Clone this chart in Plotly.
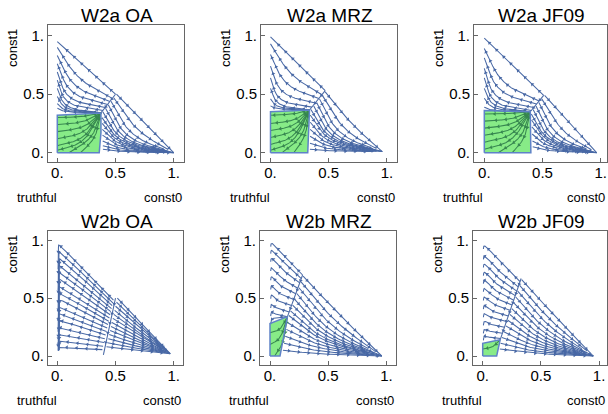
import numpy as np
import plotly.graph_objects as go

FIG_W, FIG_H = 608, 414

# ---------------- data ----------------
titles = ["W2a OA", "W2a MRZ", "W2a JF09", "W2b OA", "W2b MRZ", "W2b JF09"]
tick_vals = [0, 0.5, 1]
tick_text = ["0.", "0.5", "1."]
x_label_left, x_label_right, y_label = "truthful", "const0", "const1"

# separatrix: top end (on the const0/const1 edge) and lower junction node
sep_top_x = [0.50, 0.47, 0.51, 0.50, 0.28, 0.33]
sep_top_y = [0.50, 0.53, 0.49, 0.50, 0.70, 0.67]
node_x = [0.375, 0.335, 0.395, 0.40, 0.15, 0.15]
node_y = [0.34, 0.365, 0.35, 0.05, 0.34, 0.14]
foot_x = [0.385, 0.33, 0.41, 0.40, 0.095, 0.13]
# point where the right-hand streamlines converge (near const0 corner)
sink_x = [1.00, 0.96, 0.965, 0.97, 0.96, 0.95]
sink_y = [0.00, 0.01, 0.00, 0.02, 0.00, 0.00]

# streamline seeds: heights where the left-hand lines meet the truthful/const1 edge
upper_start_y = [
    [0.95, 0.90, 0.83, 0.76, 0.69, 0.62, 0.55, 0.48, 0.42, 0.38],
    [0.99, 0.93, 0.84, 0.74, 0.64, 0.55, 0.46, 0.40],
    [0.98, 0.89, 0.81, 0.72, 0.64, 0.55, 0.465, 0.39],
    [0.97, 0.91, 0.85, 0.79, 0.73, 0.67, 0.61, 0.55, 0.49, 0.43, 0.37, 0.31, 0.25, 0.19, 0.13, 0.08],
    [0.99, 0.93, 0.86, 0.78, 0.70, 0.62, 0.54, 0.46, 0.39, 0.32],
    [0.97, 0.88, 0.81, 0.74, 0.67, 0.60, 0.525, 0.45, 0.38, 0.31, 0.24, 0.18],
]
# heights where the right-hand lines leave the separatrix
right_start_y = [
    [0.50, 0.47, 0.44, 0.41, 0.38, 0.35, 0.30, 0.25, 0.20, 0.15, 0.10, 0.06, 0.03],
    [0.52, 0.49, 0.46, 0.43, 0.40, 0.37, 0.32, 0.26, 0.20, 0.14, 0.08, 0.03],
    [0.49, 0.46, 0.43, 0.40, 0.37, 0.33, 0.28, 0.22, 0.16, 0.10, 0.05],
    [0.50, 0.465, 0.43, 0.395, 0.36, 0.325, 0.29, 0.255, 0.22, 0.185, 0.15, 0.115, 0.08],
    [0.69, 0.64, 0.59, 0.54, 0.49, 0.44, 0.39, 0.35, 0.29, 0.23, 0.17, 0.11, 0.05],
    [0.66, 0.61, 0.56, 0.51, 0.46, 0.41, 0.36, 0.31, 0.26, 0.21, 0.16, 0.11, 0.06],
]
green_left_y = [
    [0.30, 0.24, 0.18, 0.12, 0.06, 0.02],
    [0.32, 0.25, 0.19, 0.13, 0.07, 0.02],
    [0.33, 0.27, 0.21, 0.15, 0.09, 0.03],
    [],
    [0.20, 0.10],
    [0.06],
]
green_bottom_x = [[0.10, 0.20], [0.10, 0.20], [0.12, 0.24], [], [0.04], []]
green_poly_x = [[0, 0.36, 0.375, 0.375, 0], [0, 0.32, 0.335, 0], [0, 0.40, 0.395, 0],
                [], [0, 0.086, 0.15, 0], [0, 0.12, 0.15, 0]]
green_poly_y = [[0, 0, 0.17, 0.34, 0.32], [0, 0, 0.365, 0.35], [0, 0, 0.35, 0.36],
                [], [0, 0, 0.34, 0.28], [0, 0, 0.14, 0.11]]

# ---------------- layout (pixels) ----------------
frame_left = [48, 261, 474, 48, 260, 473]
frame_right = [184, 397, 607, 183, 396, 607]
frame_top = [25, 25, 25, 231, 231, 231]
frame_bottom = [162, 162, 162, 365, 365, 365]
zero_px_x = [57.3, 270.5, 484.3, 57.3, 270.0, 482.7]
zero_px_y = [152.7, 152.7, 152.7, 356.0, 356.0, 356.0]
unit_px_x = 116.4
unit_px_y = [117.0, 117.0, 117.0, 115.7, 115.7, 115.7]

LINE = "rgb(72,104,165)"
GLINE = "rgb(55,135,80)"
FRAME = "#666666"
FONT = "Liberation Sans, Arial, sans-serif"


def chaikin(pts, n=5):
    p = np.asarray(pts, float)
    for _ in range(n):
        q = 0.75 * p[:-1] + 0.25 * p[1:]
        r = 0.25 * p[:-1] + 0.75 * p[1:]
        mid = np.empty((2 * len(q), 2))
        mid[0::2] = q
        mid[1::2] = r
        p = np.vstack([p[0], mid, p[-1]])
    return p


def lerp(a, b, t):
    return (1 - t) * np.asarray(a, float) + t * np.asarray(b, float)


def truncate(curve, frac):
    d = np.diff(curve, axis=0)
    cum = np.concatenate([[0], np.cumsum(np.hypot(d[:, 0], d[:, 1]))])
    keep = cum <= frac * cum[-1] + 1e-12
    return curve[keep]


def intersect(a0, a1, b0, b1):
    A = np.array([a1 - a0, b0 - b1]).T
    t, u = np.linalg.solve(A, b0 - a0)
    return a0 + t * (a1 - a0), u


def arrows(curve, spacing=0.085):
    d = np.diff(curve, axis=0)
    seg = np.hypot(d[:, 0], d[:, 1])
    cum = np.concatenate([[0], np.cumsum(seg)])
    total = cum[-1]
    out = []
    s = spacing * 0.6
    while s < total - 0.03:
        k = int(np.clip(np.searchsorted(cum, s) - 1, 0, len(d) - 1))
        t = (s - cum[k]) / max(seg[k], 1e-9)
        pt = curve[k] + t * d[k]
        ang = np.degrees(np.arctan2(d[k, 0], d[k, 1]))
        out.append((pt[0], pt[1], ang))
        s += spacing
    return out


fig = go.Figure()
annotations = []
trunc_pattern = [1.0, 0.93, 0.87]

for i in range(6):
    ax = "" if i == 0 else str(i + 1)
    T = np.array([sep_top_x[i], sep_top_y[i]])
    P = np.array([node_x[i], node_y[i]])
    K = np.array([sink_x[i], sink_y[i]])
    blue_curves, green_curves = [], []

    def on_sep(r):
        if r >= P[1]:
            s = (r - P[1]) / (T[1] - P[1])
            return P + s * (T - P), s
        f = 1 - r / P[1]
        return np.array([P[0] + (foot_x[i] - P[0]) * f, r]), 0.0

    # ---- left-hand family: separatrix -> truthful/const1 edge ----
    ymax = max(upper_start_y[i])
    for j, y0 in enumerate(upper_start_y[i]):
        S = np.array([0.0, y0])
        E, u = intersect(K, S, P, T)
        u = float(np.clip(u, 0, 1))
        if i == 3:
            E = P + u * (T - P) - np.array([0.014, 0.0])
            xs = 0.010 + 0.004 * (j % 3)
            L = np.array([xs, y0])
            yend = max(y0 - 0.22 - 0.03 * (j % 3), 0.05)
            pts = [E, lerp(E, L, 0.93), L, [xs, y0 - 0.04], [xs - 0.003, yend]]
            blue_curves.append(chaikin(pts, 4))
        elif i in (4, 5):
            E = P + u * (T - P)
            L = np.array([0.012, y0])
            mid = lerp(E, L, 0.5)
            C = lerp(mid, [0.0, E[1]], 0.35 * (1 - u ** 2))
            pts = [E, C, L, [0.006, y0 - 0.045]]
            blue_curves.append(chaikin(pts, 5))
        else:
            if y0 >= ymax:
                u = 1.0
            u = u ** 1.25
            E = P + u * (T - P)
            mid = lerp(S, E, 0.5)
            C = lerp(mid, [0.0, E[1]], 0.65 * (1 - u ** 2))
            blue_curves.append(chaikin([E, C, S], 5))

    # ---- right-hand family: separatrix -> const0 corner ----
    c_r = [0.5, 0.5, 0.5, 0.05, 0.3, 0.3][i]
    gap = 0.016 if i == 3 else 0.008
    for j, r in enumerate(right_start_y[i]):
        E, s = on_sep(r)
        E = E + np.array([gap, 0.0])
        mid = lerp(E, K, 0.5)
        C = lerp(mid, [E[0], K[1]], c_r * (1 - s ** 3))
        cur = chaikin([E, C, K], 5)
        blue_curves.append(truncate(cur, trunc_pattern[j % 3]))

    # separatrix line itself
    if i == 3:
        blue_curves.append(chaikin([T, lerp(T, P, 0.85), P, [P[0] - 0.004, 0.01]], 3))
    else:
        blue_curves.append(chaikin([T, P], 1))

    # ---- green basin family: node -> truthful edges ----
    for g in green_left_y[i]:
        S = np.array([0.0, g])
        C = lerp(lerp(P, S, 0.5), [P[0] * 0.7, g], 0.6)
        green_curves.append(chaikin([P, C, S], 5))
    for g in green_bottom_x[i]:
        S = np.array([g, 0.0])
        C = lerp(lerp(P, S, 0.5), [P[0], 0.25 * P[1]], 0.5)
        green_curves.append(chaikin([P, C, S], 5))

    if green_poly_x[i]:
        fig.add_trace(go.Scatter(
            x=green_poly_x[i] + [green_poly_x[i][0]],
            y=green_poly_y[i] + [green_poly_y[i][0]],
            mode="lines", fill="toself", fillcolor="rgb(135,235,135)",
            line=dict(color="rgba(0,0,0,0)", width=0),
            xaxis="x" + ax, yaxis="y" + ax, hoverinfo="skip", showlegend=False))

    for curves, col in ((blue_curves, LINE), (green_curves, GLINE)):
        if not curves:
            continue
        xs_, ys_ = [], []
        ax_, ay_, aa_ = [], [], []
        for c in curves:
            xs_ += list(c[:, 0]) + [None]
            ys_ += list(c[:, 1]) + [None]
            for (qx, qy, ang) in arrows(c):
                ax_.append(qx); ay_.append(qy); aa_.append(ang)
        fig.add_trace(go.Scatter(x=xs_, y=ys_, mode="lines",
                                 line=dict(color=col, width=1.05),
                                 xaxis="x" + ax, yaxis="y" + ax,
                                 hoverinfo="skip", showlegend=False))
        fig.add_trace(go.Scatter(x=ax_, y=ay_, mode="markers",
                                 marker=dict(symbol="triangle-up", size=3.6, color=col,
                                             angle=aa_, line=dict(width=0)),
                                 xaxis="x" + ax, yaxis="y" + ax,
                                 hoverinfo="skip", showlegend=False))
    if green_poly_x[i]:
        fig.add_trace(go.Scatter(
            x=green_poly_x[i] + [green_poly_x[i][0]],
            y=green_poly_y[i] + [green_poly_y[i][0]],
            mode="lines", line=dict(color="rgb(95,130,200)", width=1.5),
            xaxis="x" + ax, yaxis="y" + ax, hoverinfo="skip", showlegend=False))

    fl, fr, ft, fb = frame_left[i], frame_right[i], frame_top[i], frame_bottom[i]
    xr = [(fl - zero_px_x[i]) / unit_px_x, (fr - zero_px_x[i]) / unit_px_x]
    yr = [(zero_px_y[i] - fb) / unit_px_y[i], (zero_px_y[i] - ft) / unit_px_y[i]]
    common = dict(showline=True, mirror=True, linecolor=FRAME, linewidth=1,
                  ticks="inside", ticklen=4, tickcolor=FRAME, tickwidth=1,
                  tickvals=tick_vals, ticktext=tick_text, showgrid=False,
                  zeroline=False, fixedrange=True,
                  tickfont=dict(family=FONT, size=15, color="black"))
    fig.layout["xaxis" + ax] = dict(domain=[fl / FIG_W, fr / FIG_W], range=xr,
                                    anchor="y" + ax, ticklabelstandoff=-3, **common)
    fig.layout["yaxis" + ax] = dict(domain=[1 - fb / FIG_H, 1 - ft / FIG_H], range=yr,
                                    anchor="x" + ax, ticklabelstandoff=0, **common)

    def put(xp, yp, text, size, angle=0):
        annotations.append(dict(x=xp / FIG_W, y=1 - yp / FIG_H, xref="paper", yref="paper",
                                text=text, showarrow=False, textangle=angle,
                                xanchor="center", yanchor="middle",
                                font=dict(family=FONT, size=size, color="black")))

    put((fl + fr) / 2 + 1, ft - 10, titles[i], 19)
    put(fl - 11, fb + 35, x_label_left, 13)
    put(min(fr - 21, 588), fb + 35, x_label_right, 13)
    put(fl - 35, ft + 23, y_label, 13, -90)

fig.update_layout(width=FIG_W, height=FIG_H, margin=dict(l=0, r=0, t=0, b=0),
                  paper_bgcolor="white", plot_bgcolor="white",
                  annotations=annotations, showlegend=False)
fig.write_html("out.html", config={"displayModeBar": False},
               post_script="document.body.style.margin='0';document.body.style.overflow='hidden';")
